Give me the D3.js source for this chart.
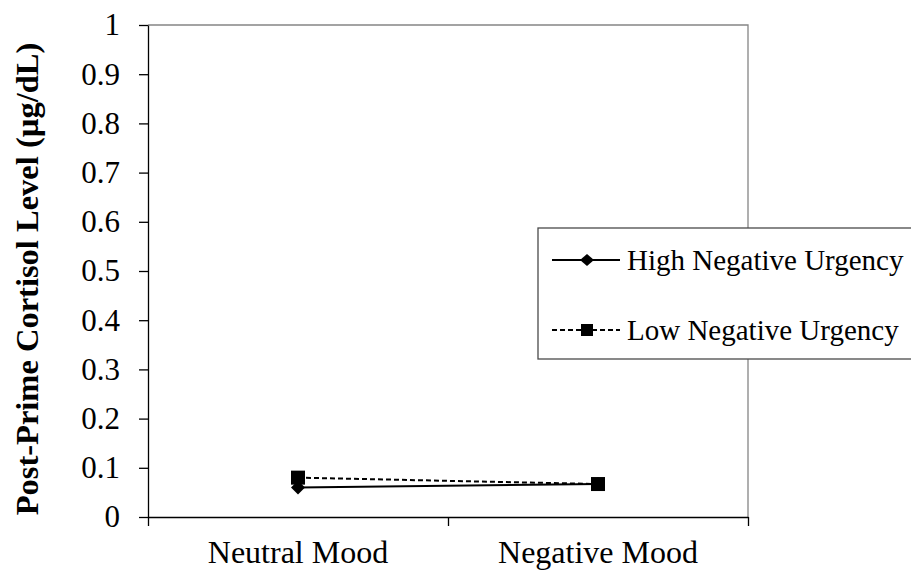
<!DOCTYPE html>
<html>
<head>
<meta charset="utf-8">
<script src="https://cdn.jsdelivr.net/npm/d3@7"></script>
<style>
    body { margin: 0; background: #fff; }
    .axis path, .axis line { stroke: #000; stroke-width: 1.3; }
</style>
</head>
<body>
<div id="chart"></div>
<script>
// Chart values
const categories = ["Neutral Mood", "Negative Mood"];
const highUrgency = [0.06, 0.067];
const lowUrgency = [0.08, 0.067];
const yTicks = [0, 0.1, 0.2, 0.3, 0.4, 0.5, 0.6, 0.7, 0.8, 0.9, 1];
const seriesNames = ["High Negative Urgency", "Low Negative Urgency"];
const yTitle = "Post-Prime Cortisol Level (µg/dL)";

const FONT = "'Liberation Serif', 'Times New Roman', Times, 'DejaVu Serif', serif";

class Chart {

    constructor(opts) {
        this.element = opts.element || "chart";
        this.width = 911;
        this.height = 571;
        this.margin = { top: 25, right: 163, bottom: 54, left: 148 };

        this.innerWidth = this.width - (this.margin.left + this.margin.right);
        this.innerHeight = this.height - (this.margin.top + this.margin.bottom);

        this.svg = d3.select(`#${this.element}`)
            .append("svg")
            .attr("width", this.width)
            .attr("height", this.height)
            .attr("font-family", FONT);

        this.plot = this.svg.append("g")
            .attr("transform", `translate(${this.margin.left},${this.margin.top})`);

        this.createScales();
        this.addFrame();
        this.addAxes();
        this.addLines();
        this.addLegend();
    }

    createScales() {
        this.x = d3.scaleBand()
            .domain(categories)
            .range([0, this.innerWidth])
            .padding(0);

        // used for the category boundary ticks
        this.xEdge = d3.scaleLinear()
            .domain([0, categories.length])
            .range([0, this.innerWidth]);

        this.y = d3.scaleLinear()
            .domain([0, 1])
            .range([this.innerHeight, 0]);
    }

    addFrame() {
        // grey top and right border of the plot area
        this.plot.append("path")
            .attr("d", `M0,0H${this.innerWidth}V${this.innerHeight}`)
            .attr("fill", "none")
            .attr("stroke", "#858585")
            .attr("stroke-width", 1.3);
    }

    addAxes() {
        const yAxis = this.plot.append("g")
            .attr("class", "y axis")
            .call(d3.axisLeft(this.y)
                .tickValues(yTicks)
                .tickFormat(d => String(d))
                .tickSize(9)
                .tickSizeOuter(0)
                .tickPadding(19));
        yAxis.attr("font-family", FONT).attr("font-size", 31);
        yAxis.selectAll("text").attr("fill", "#000");

        // boundary ticks under the categories
        this.plot.append("g")
            .attr("class", "x axis")
            .attr("transform", `translate(0,${this.innerHeight})`)
            .call(d3.axisBottom(this.xEdge)
                .tickValues(d3.range(categories.length + 1))
                .tickFormat("")
                .tickSize(9)
                .tickSizeOuter(0));

        const xLabels = this.plot.append("g")
            .attr("transform", `translate(0,${this.innerHeight})`)
            .call(d3.axisBottom(this.x).tickSize(0).tickPadding(23));
        xLabels.select(".domain").remove();
        xLabels.attr("font-family", FONT).attr("font-size", 32);
        xLabels.selectAll("text").attr("fill", "#000");

        this.svg.append("text")
            .attr("transform", `translate(38,${this.margin.top + this.innerHeight / 2 + 8}) rotate(-90)`)
            .attr("text-anchor", "middle")
            .attr("font-size", 32.5)
            .attr("font-weight", "bold")
            .text(yTitle);
    }

    addLines() {
        const that = this;
        const line = d3.line()
            .x((d, i) => that.x(categories[i]) + that.x.bandwidth() / 2)
            .y(d => that.y(d));

        // high urgency: solid with diamonds
        this.plot.append("path")
            .datum(highUrgency)
            .attr("d", line)
            .attr("fill", "none")
            .attr("stroke", "#000")
            .attr("stroke-width", 2);

        this.plot.selectAll(".diamond")
            .data(highUrgency)
            .enter()
            .append("path")
            .attr("class", "diamond")
            .attr("transform", (d, i) => `translate(${that.x(categories[i]) + that.x.bandwidth() / 2},${that.y(d)})`)
            .attr("d", "M0,-7L7,0L0,7L-7,0Z")
            .attr("fill", "#000");

        // low urgency: dashed with squares
        this.plot.append("path")
            .datum(lowUrgency)
            .attr("d", line)
            .attr("fill", "none")
            .attr("stroke", "#000")
            .attr("stroke-width", 2)
            .attr("stroke-dasharray", "5,3");

        this.plot.selectAll(".square")
            .data(lowUrgency)
            .enter()
            .append("rect")
            .attr("class", "square")
            .attr("x", (d, i) => that.x(categories[i]) + that.x.bandwidth() / 2 - 7)
            .attr("y", d => that.y(d) - 7)
            .attr("width", 14)
            .attr("height", 14)
            .attr("fill", "#000");
    }

    addLegend() {
        const legend = this.svg.append("g")
            .attr("transform", "translate(538,228)");

        legend.append("rect")
            .attr("width", 390)
            .attr("height", 131)
            .attr("fill", "#fff")
            .attr("stroke", "#4a4a4a")
            .attr("stroke-width", 1.3);

        seriesNames.forEach(function(name, i) {
            const row = legend.append("g")
                .attr("transform", `translate(0,${32 + i * 70})`);

            row.append("line")
                .attr("x1", 14).attr("x2", 82)
                .attr("stroke", "#000")
                .attr("stroke-width", 2)
                .attr("stroke-dasharray", i === 0 ? null : "5,3");

            if (i === 0) {
                row.append("path")
                    .attr("transform", "translate(49,0)")
                    .attr("d", "M0,-6L7,0L0,6L-7,0Z")
                    .attr("fill", "#000");
            } else {
                row.append("rect")
                    .attr("x", 43).attr("y", -6)
                    .attr("width", 12).attr("height", 12)
                    .attr("fill", "#000");
            }

            row.append("text")
                .attr("x", 89)
                .attr("dy", "0.35em")
                .attr("font-size", 29)
                .text(name);
        });
    }
}

new Chart({ element: "chart" });
</script>
</body>
</html>
